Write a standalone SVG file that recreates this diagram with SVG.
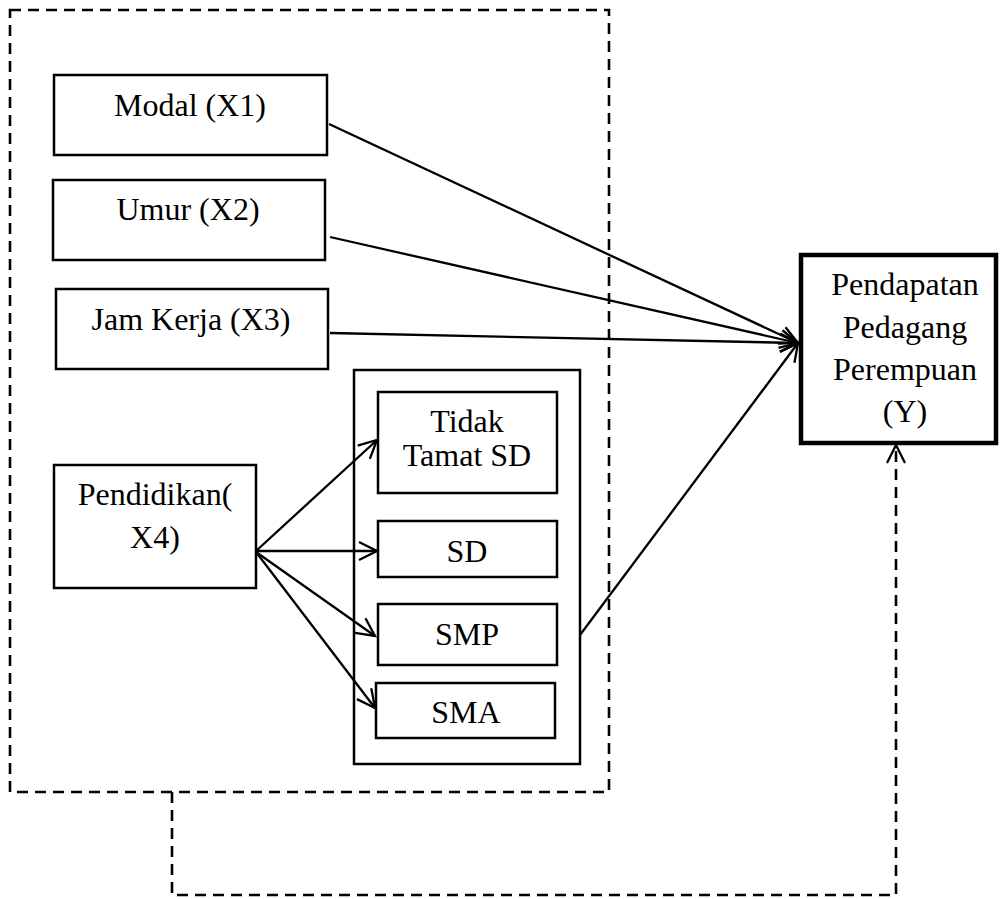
<svg xmlns="http://www.w3.org/2000/svg" width="1000" height="899" viewBox="0 0 1000 899">
<style>
.box{fill:#fff;stroke:#000;stroke-width:2.5}
.dash{fill:none;stroke:#000;stroke-width:2.6;stroke-dasharray:11,7}
.ln{fill:none;stroke:#000;stroke-width:2.3}
text{font-family:"Liberation Serif","Times New Roman",serif;font-size:32px;fill:#000;text-anchor:middle}
</style>
<defs>
<marker id="ah" markerUnits="userSpaceOnUse" markerWidth="22" markerHeight="22" refX="18" refY="9" orient="auto" overflow="visible">
<path d="M0,0 L18,9 L0,18" fill="none" stroke="#000" stroke-width="2.3"/>
</marker>
</defs>
<g id="frame">
<rect class="dash" x="10" y="10" width="599" height="782"/>
</g>
<g id="inner-group">
<rect class="box" x="354" y="370" width="226" height="394"/>
</g>
<g id="modal"><rect class="box" x="54" y="75" width="273" height="80"/><text x="190" y="116">Modal (X1)</text></g>
<g id="umur"><rect class="box" x="53" y="180" width="272" height="80"/><text x="188" y="220">Umur (X2)</text></g>
<g id="jamkerja"><rect class="box" x="56" y="289" width="272" height="80"/><text x="191" y="330">Jam Kerja (X3)</text></g>
<g id="pendidikan"><rect class="box" x="54" y="465" width="202" height="123"/><text x="155" y="505">Pendidikan(</text><text x="155" y="548">X4)</text></g>
<g id="tidak"><rect class="box" x="378" y="392" width="179" height="101"/><text x="467" y="432">Tidak</text><text x="467" y="466">Tamat SD</text></g>
<g id="sd"><rect class="box" x="378" y="521" width="179" height="56"/><text x="467" y="562">SD</text></g>
<g id="smp"><rect class="box" x="378" y="604" width="179" height="61"/><text x="467" y="645">SMP</text></g>
<g id="sma"><rect class="box" x="376" y="683" width="179" height="55"/><text x="466" y="723">SMA</text></g>
<g id="pendapatan"><rect x="801" y="255" width="195" height="188" fill="#fff" stroke="#000" stroke-width="4.5"/>
<text x="905" y="295">Pendapatan</text><text x="905" y="338">Pedagang</text><text x="905" y="380">Perempuan</text><text x="905" y="422">(Y)</text></g>
<g id="connectors">
<line class="ln" x1="329" y1="124" x2="798" y2="343" marker-end="url(#ah)"/>
<line class="ln" x1="330" y1="237" x2="798" y2="343" marker-end="url(#ah)"/>
<line class="ln" x1="330" y1="333" x2="798" y2="343" marker-end="url(#ah)"/>
<line class="ln" x1="580" y1="635" x2="798" y2="343" marker-end="url(#ah)"/>
<line class="ln" x1="256" y1="551" x2="377" y2="440" marker-end="url(#ah)"/>
<line class="ln" x1="256" y1="551" x2="377" y2="551" marker-end="url(#ah)"/>
<line class="ln" x1="256" y1="552" x2="375" y2="636" marker-end="url(#ah)"/>
<line class="ln" x1="256" y1="552" x2="375" y2="708" marker-end="url(#ah)"/>
<polyline class="dash" points="172,792 172,895 896,895 896,447"/>
<path d="M887,463 L896,445 L905,463" fill="none" stroke="#000" stroke-width="2.3"/>
</g>
</svg>
